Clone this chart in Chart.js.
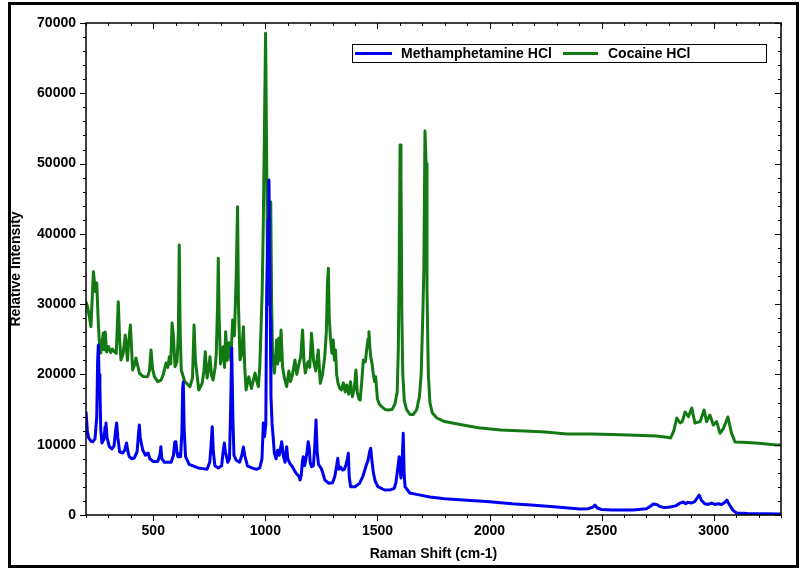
<!DOCTYPE html>
<html>
<head>
<meta charset="utf-8">
<title>Raman spectra</title>
<script src="https://cdn.jsdelivr.net/npm/chart.js@4.4.1/dist/chart.umd.min.js"></script>
<style>
  html, body { margin: 0; padding: 0; background: #fff; }
  canvas { display: block; }
</style>
</head>
<body>
<canvas id="ramanChart" width="810" height="579"></canvas>
<script>
// --- 1. DATA ---
const methX = [
  200, 206, 212, 222, 230, 240, 248, 252, 255, 258, 262, 266, 271, 280, 285, 289, 294, 304, 315, 325,
  332, 337, 342, 350, 364, 372, 381, 387, 393, 405, 415, 428, 434, 438, 442, 453, 465, 477, 485, 500,
  520, 530, 534, 538, 550, 580, 590, 596, 601, 606, 610, 622, 628, 631, 634, 638, 644, 660, 700, 720,
  740, 752, 758, 763, 768, 775, 790, 805, 810, 817, 822, 832, 840, 845, 850, 855, 860, 870, 885, 895,
  902, 908, 920, 940, 960, 975, 985, 991, 996, 1002, 1006, 1012, 1016, 1020, 1022, 1025, 1030, 1035, 1040, 1048,
  1055, 1062, 1073, 1080, 1088, 1095, 1100, 1110, 1120, 1136, 1150, 1155, 1160, 1165, 1169, 1175, 1180, 1186, 1191, 1196,
  1200, 1206, 1214, 1220, 1226, 1231, 1237, 1249, 1256, 1265, 1283, 1300, 1310, 1318, 1323, 1328, 1336, 1345, 1352, 1360,
  1366, 1370, 1374, 1380, 1400, 1420, 1435, 1448, 1458, 1465, 1470, 1476, 1482, 1490, 1502, 1532, 1560, 1575, 1582, 1590,
  1597, 1602, 1605, 1610, 1615, 1619, 1623, 1644, 1680, 1734, 1800, 1900, 2000, 2100, 2200, 2300, 2403, 2440, 2460, 2470,
  2480, 2500, 2550, 2640, 2700, 2720, 2730, 2745, 2760, 2780, 2805, 2830, 2850, 2864, 2875, 2885, 2900, 2915, 2928, 2935,
  2945, 2960, 2975, 2990, 3005, 3020, 3035, 3050, 3059, 3065, 3075, 3085, 3102, 3150, 3300
];
const methY = [
  14700, 12000, 10960, 10500, 10430, 10800, 14000, 22000, 24190, 20000, 18260, 12000, 10250, 10800, 12500, 13090, 11000, 9720, 9400, 9800,
  12000, 13090, 11000, 9000, 8820, 9200, 10250, 9000, 8300, 8000, 8110, 9000, 11500, 12800, 11000, 9250, 8500, 8820, 8000, 7600,
  7600, 8600, 9720, 8000, 7500, 7500, 8500, 10400, 10430, 8800, 8300, 8300, 12000, 18000, 18930, 12000, 8300, 7200, 6700, 6600,
  6500, 7500, 10000, 12570, 9000, 7000, 6700, 7000, 8500, 10250, 9000, 7500, 8000, 15000, 23760, 14000, 8500, 7800, 7500, 8500,
  9680, 8500, 7000, 6700, 6500, 6700, 8000, 13090, 11140, 12900, 32020, 42000, 47670, 35000, 27750, 16830, 13000, 11000, 8820, 8000,
  9200, 8500, 10430, 8500, 7500, 9720, 8000, 7300, 6900, 5970, 5500, 4980, 5600, 7500, 8300, 7000, 7800, 9000, 10430, 9500,
  7500, 6870, 7000, 9500, 13520, 9000, 7200, 6640, 6000, 5000, 4510, 4600, 5500, 7000, 8070, 6500, 6800, 6400, 6500, 7200,
  8000, 8780, 5500, 4030, 4030, 4500, 5500, 6870, 7800, 9000, 9490, 7500, 6000, 4800, 4030, 3560, 3600, 3800, 4550, 6500,
  8300, 6000, 5260, 7500, 11620, 6000, 4030, 3130, 2900, 2560, 2300, 2100, 1900, 1600, 1400, 1150, 850, 900, 1100, 1420,
  1000, 780, 720, 710, 900, 1300, 1560, 1500, 1200, 1050, 1140, 1300, 1700, 1850, 1600, 1800, 1700, 1900, 2500, 2850,
  2100, 1600, 1500, 1700, 1500, 1600, 1500, 1800, 2130, 1700, 1200, 700, 285, 200, 140
];

const cocX = [
  200, 208, 215, 222, 233, 242, 248, 254, 259, 266, 277, 281, 286, 292, 301, 310, 318, 326, 335, 344,
  350, 356, 366, 375, 385, 390, 398, 408, 415, 423, 438, 455, 475, 483, 490, 497, 505, 520, 535, 545,
  557, 565, 572, 578, 584, 590, 597, 606, 612, 616, 620, 625, 640, 664, 675, 682, 688, 703, 718, 726,
  732, 740, 748, 753, 760, 767, 776, 781, 787, 790, 794, 800, 812, 818, 823, 830, 838, 846, 854, 862,
  870, 876, 880, 887, 895, 902, 908, 914, 926, 938, 954, 962, 969, 975, 980, 986, 991, 996, 1001, 1006,
  1010, 1015, 1020, 1024, 1028, 1032, 1040, 1045, 1050, 1055, 1060, 1065, 1070, 1077, 1085, 1095, 1105, 1112, 1120, 1132,
  1140, 1150, 1158, 1166, 1172, 1178, 1190, 1198, 1206, 1215, 1225, 1236, 1245, 1255, 1265, 1272, 1277, 1281, 1285, 1290,
  1297, 1303, 1308, 1313, 1318, 1324, 1332, 1339, 1348, 1356, 1363, 1372, 1380, 1388, 1397, 1404, 1410, 1417, 1423, 1430,
  1437, 1446, 1452, 1458, 1462, 1466, 1470, 1476, 1481, 1487, 1492, 1500, 1508, 1519, 1535, 1548, 1565, 1578, 1588, 1593,
  1597, 1601, 1605, 1609, 1613, 1620, 1630, 1645, 1660, 1675, 1687, 1695, 1702, 1707, 1712, 1717, 1721, 1727, 1734, 1745,
  1765, 1800, 1880, 1950, 2050, 2180, 2250, 2344, 2450, 2550, 2650, 2745, 2790, 2808, 2822, 2835, 2850, 2860, 2872, 2887,
  2902, 2916, 2939, 2957, 2968, 2983, 2998, 3013, 3028, 3043, 3063, 3079, 3095, 3150, 3200, 3281, 3300
];
const cocY = [
  30350, 29500, 28220, 26800, 34620, 31780, 33000, 28000, 24900, 23050, 25900, 23500, 26040, 23200, 23950, 23100, 23600, 23240, 23000, 30350,
  25000, 22060, 23000, 25610, 22000, 24500, 27040, 20630, 21200, 22340, 20200, 19700, 19680, 20500, 23480, 20800, 19680, 18970, 19200, 20000,
  21630, 21000, 22530, 21500, 27320, 25500, 21100, 21800, 26000, 38420, 26000, 20630, 19000, 18260, 19500, 27040, 22000, 17790, 18700, 20500,
  23240, 19500, 21000, 22530, 19800, 19210, 21000, 23000, 30000, 36520, 28000, 21500, 23950, 21000, 26080, 22000, 24500, 22000, 27750, 25500,
  34000, 43870, 30000, 22060, 23000, 26800, 21000, 17790, 19680, 18000, 20200, 19000, 18260, 21000, 25860, 32000, 41980, 55000, 68540, 50000,
  32490, 30000, 38000, 44580, 30000, 23050, 20200, 22000, 24900, 21500, 25190, 22000, 26330, 21000, 19500, 18260, 20500, 19000, 19800, 22060,
  20000, 21500, 22530, 26330, 22000, 20200, 21800, 21000, 25860, 22000, 20500, 23480, 18740, 20000, 22530, 26000, 33000, 35110, 28000, 25370,
  23000, 24900, 22000, 23480, 20000, 18780, 18000, 17790, 18800, 17500, 18500, 17200, 18970, 16830, 18000, 20630, 17500, 16500, 16360, 19000,
  22060, 21800, 23500, 25000, 26080, 24000, 22500, 21500, 20200, 19000, 19680, 16500, 15800, 15410, 15000, 14940, 15000, 15800, 17500, 23480,
  35000, 52650, 48000, 28000, 20000, 16200, 15000, 14300, 14300, 15000, 16800, 20000, 28000, 35000, 54640, 50000, 32000, 20000, 16000, 14500,
  13800, 13300, 12800, 12400, 12100, 11900, 11800, 11530, 11530, 11450, 11350, 11240, 11050, 10960, 12000, 13800, 13090, 13300, 14660, 13990,
  15230, 13090, 13280, 14940, 13280, 14230, 12800, 13280, 11620, 12300, 13950, 11670, 10390, 10300, 10200, 9960, 9950
];

const xTicks = [500, 1000, 1500, 2000, 2500, 3000];
const yTicks = [0, 10000, 20000, 30000, 40000, 50000, 60000, 70000];

const seriesNames = ["Methamphetamine HCl", "Cocaine HCl"];
const seriesColors = ["#0000f0", "#137a13"];

const font = { family: "'Liberation Sans', Arial, sans-serif", size: 14, weight: "bold" };

// --- 2. KHUNG, VẠCH CHIA VÀ CHÚ THÍCH ---
const framePlugin = {
  id: "framePlugin",
  afterDraw(chart) {
    const { ctx, chartArea: a, scales } = chart;
    ctx.save();
    ctx.strokeStyle = "#000";

    // plot frame
    ctx.lineWidth = 1.5;
    ctx.strokeRect(a.left, a.top, a.right - a.left, a.bottom - a.top);

    // ticks: outward on left/bottom, inward on right/top
    ctx.lineWidth = 1;
    ctx.beginPath();
    for (let v = 200; v <= 3300; v += 100) {
      const x = Math.round(scales.x.getPixelForValue(v)) + 0.5;
      const len = v % 500 === 0 ? 6 : 3;
      ctx.moveTo(x, a.bottom);
      ctx.lineTo(x, a.bottom + len);
      ctx.moveTo(x, a.top);
      ctx.lineTo(x, a.top + len);
    }
    for (let v = 0; v <= 70000; v += 2000) {
      const y = Math.round(scales.y.getPixelForValue(v)) + 0.5;
      const len = v % 10000 === 0 ? 6 : 3;
      ctx.moveTo(a.left - len, y);
      ctx.lineTo(a.left, y);
      ctx.moveTo(a.right - len, y);
      ctx.lineTo(a.right, y);
    }
    ctx.stroke();

    // outer border
    ctx.lineWidth = 3;
    ctx.strokeRect(9.5, 3.5, 788, 563);

    // legend box
    ctx.lineWidth = 1;
    ctx.strokeRect(352.5, 44.5, 414, 18);
    ctx.font = `${font.weight} ${font.size}px ${font.family}`;
    ctx.textBaseline = "middle";
    ctx.fillStyle = "#000";
    const items = [
      { x0: 355, x1: 392, tx: 401 },
      { x0: 563, x1: 598, tx: 608 },
    ];
    chart.data.datasets.forEach((ds, i) => {
      const it = items[i];
      ctx.strokeStyle = ds.borderColor;
      ctx.lineWidth = 3;
      ctx.beginPath();
      ctx.moveTo(it.x0, 53.5);
      ctx.lineTo(it.x1, 53.5);
      ctx.stroke();
      ctx.fillText(ds.label, it.tx, 54);
    });
    ctx.restore();
  },
};

// --- 3. VẼ BIỂU ĐỒ ---
new Chart(document.getElementById("ramanChart"), {
  type: "line",
  data: {
    datasets: [
      {
        label: seriesNames[0],
        data: methX.map((x, i) => ({ x: x, y: methY[i] })),
        borderColor: seriesColors[0],
      },
      {
        label: seriesNames[1],
        data: cocX.map((x, i) => ({ x: x, y: cocY[i] })),
        borderColor: seriesColors[1],
      },
    ],
  },
  options: {
    responsive: false,
    animation: false,
    elements: {
      line: { borderWidth: 3, tension: 0, borderJoinStyle: "round", fill: false },
      point: { radius: 0 },
    },
    layout: { padding: { top: 23, right: 29, left: 0, bottom: 0 } },
    plugins: { legend: { display: false }, tooltip: { enabled: false } },
    scales: {
      x: {
        type: "linear",
        min: 200,
        max: 3300,
        afterBuildTicks: (s) => { s.ticks = xTicks.map((v) => ({ value: v })); },
        afterFit: (s) => { s.height = 64; },
        grid: { display: false, drawTicks: false },
        border: { display: false },
        ticks: { color: "#000", font: font, padding: 8, maxRotation: 0, autoSkip: false, callback: (v) => String(v) },
        title: { display: true, text: "Raman Shift (cm-1)", color: "#000", font: font, padding: { top: 0, bottom: 16 } },
      },
      y: {
        type: "linear",
        min: 0,
        max: 70000,
        afterBuildTicks: (s) => { s.ticks = yTicks.map((v) => ({ value: v })); },
        afterFit: (s) => { s.width = 86; },
        grid: { display: false, drawTicks: false },
        border: { display: false },
        ticks: { color: "#000", font: font, padding: 10, autoSkip: false, callback: (v) => String(v) },
        title: { display: true, text: "Relative Intensity", color: "#000", font: font, padding: { top: 8, bottom: 0 } },
      },
    },
  },
  plugins: [framePlugin],
});
</script>
</body>
</html>
